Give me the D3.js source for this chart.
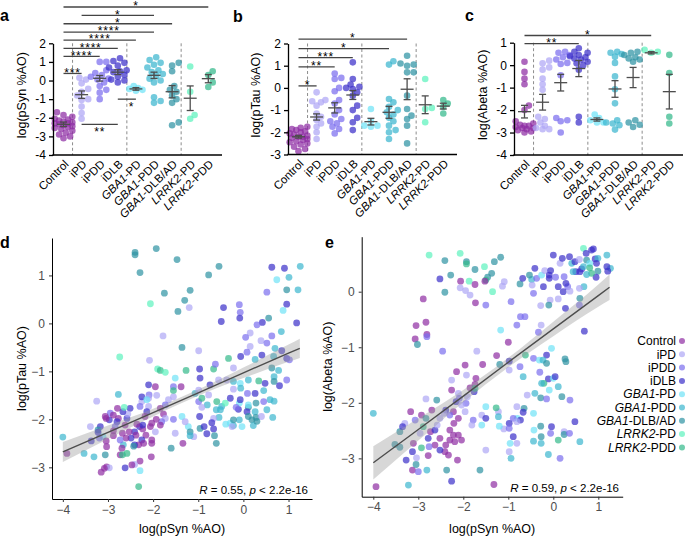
<!DOCTYPE html>
<html>
<head>
<meta charset="utf-8">
<script src="https://cdn.jsdelivr.net/npm/d3@7/dist/d3.min.js"></script>
<style>
html,body{margin:0;padding:0;background:#fff;}
svg{display:block;font-family:"Liberation Sans",Arial,Helvetica,sans-serif;}
</style>
</head>
<body>
<svg id="fig" width="685" height="536"></svg>
<script>
// ================= DATA =================
const groups = ["Control","iPD","iPDD","iDLB","GBA1-PD","GBA1-PDD","GBA1-DLB/AD","LRRK2-PD","LRRK2-PDD"];
const groupColors = ["#8e2ca3","#aea6f5","#7b6eee","#3b2fc9","#6fe3f7","#3cb6cf","#2e93a3","#5cf2bd","#33b98a"];

// panel a: log(pSyn %AO)
const pSynValues = [
  [-1.7,-1.85,-1.95,-2.05,-2.1,-2.15,-2.2,-2.25,-2.3,-2.3,-2.35,-2.4,-2.45,-2.5,-2.55,-2.6,-2.7,-2.8,-2.9,-3.0,-3.1],
  [0.15,0.05,-0.15,-0.45,-0.6,-0.8,-1.0,-1.05,-1.4,-1.75,-2.05],
  [1.0,1.0,0.55,0.4,0.3,0.2,0.1,0.05,-0.1,-0.3,-0.5,-0.65,-1.0],
  [1.2,1.05,0.95,0.8,0.7,0.55,0.5,0.45,0.3,0.2,0.05,0.0,-0.1],
  [-0.3,-0.4,-0.45,-0.5,-0.55],
  [1.25,1.1,0.95,0.85,0.7,0.55,0.45,0.35,0.25,0.1,0.0,-0.1,-0.9,-1.1,-1.2],
  [0.95,0.8,0.5,-0.3,-0.5,-0.6,-0.8,-1.0,-1.2,-2.25,-2.4],
  [0.75,-0.6,-1.85,-2.05],
  [0.5,0.3,-0.1,-0.35]
];
const pSynMean = [-2.35,-0.76,0.12,0.45,-0.45,0.28,-0.6,-0.95,0.1];
const pSynSem  = [0.12,0.2,0.15,0.13,0.07,0.17,0.33,0.66,0.22];
const pSynTicks = [-4,-3,-2,-1,0,1,2];
const pSynSig = [
  ["Control","iPD","***",0.38,"above",0.5],
  ["Control","iPDD","****",1.3,"above",0.5],
  ["Control","iDLB","****",1.73,"above",0.5],
  ["Control","GBA1-PD","****",2.17,"above",0.5],
  ["Control","GBA1-PDD","****",2.6,"above",0.5],
  ["Control","GBA1-DLB/AD","*",3.05,"above",0.5],
  ["iPD","GBA1-PDD","*",3.5,"above",0.5],
  ["Control","LRRK2-PDD","*",3.95,"above",0.5],
  ["iPD","iDLB","**",-2.35,"below",0.5],
  ["iDLB","GBA1-PD","*",-1.0,"below",0.75]
];

// panel b: log(pTau %AO)
const pTauValues = [
  [-1.75,-1.8,-1.85,-1.9,-1.95,-2.0,-2.05,-2.1,-2.15,-2.2,-2.2,-2.25,-2.3,-2.35,-2.4,-2.45,-2.5,-2.55,-2.65,-2.75,-2.85],
  [-0.2,-0.55,-0.6,-0.65,-0.8,-1.15,-1.3,-1.45,-1.6,-1.75,-2.0,-2.3],
  [0.65,0.45,0.4,0.0,-0.15,-0.55,-0.7,-1.0,-1.2,-1.4,-1.5,-1.6,-1.75,-1.85,-2.05],
  [1.15,0.4,0.15,0.05,0.0,-0.05,-0.2,-0.35,-0.8,-1.0,-1.35,-1.55,-1.9],
  [-0.95,-1.5,-1.7,-1.7,-1.75],
  [1.2,1.05,-0.5,-0.65,-0.85,-1.0,-1.1,-1.2,-1.35,-1.5,-1.7,-1.9,-2.0,-2.3],
  [1.45,1.1,1.05,1.0,0.7,0.7,-0.35,-0.95,-1.25,-1.4,-1.7,-2.5],
  [0.4,-0.9,-0.95,-1.55],
  [-0.55,-0.7,-0.85,-1.15]
];
const pTauMean = [-2.2,-1.31,-0.9,-0.32,-1.52,-1.1,-0.06,-0.76,-0.82];
const pTauSem  = [0.06,0.14,0.23,0.2,0.15,0.27,0.47,0.4,0.13];
const pTauTicks = [-3,-2,-1,0,1,2];
const pTauSig = [
  ["Control","iPD","*",0.09,"above",0.5],
  ["Control","iPDD","**",0.95,"above",0.5],
  ["Control","iDLB","***",1.36,"above",0.5],
  ["Control","GBA1-PDD","*",1.77,"above",0.5],
  ["Control","GBA1-DLB/AD","*",2.2,"above",0.5]
];

// panel c: log(Abeta %AO)
const abetaValues = [
  [0.15,-0.3,-0.6,-0.85,-1.8,-2.0,-2.5,-2.6,-2.65,-2.7,-2.7,-2.75,-2.8,-2.8,-2.85,-2.9,-2.95,-3.0],
  [0.2,0.08,-0.1,-0.2,-0.6,-0.85,-1.1,-2.3,-2.4,-2.55,-2.7,-2.8,-2.85,-2.85],
  [0.6,0.55,0.45,0.35,0.25,0.1,0.05,-0.45,-2.35,-2.45,-2.5,-3.0],
  [0.75,0.6,0.55,0.45,0.4,0.35,0.3,0.25,0.15,0.08,0.0,-0.2,-2.3,-2.55],
  [-2.2,-2.35,-2.45,-2.55,-2.55],
  [0.6,0.55,0.5,0.38,0.1,-0.5,-1.07,-1.7,-2.45,-2.55,-2.6,-2.67,-2.87],
  [0.6,0.55,0.45,0.35,0.3,0.25,0.15,-2.45,-2.55,-2.65,-2.75],
  [0.68,0.6,0.55],
  [0.46,-0.35,-2.3,-2.6]
];
const abetaMean = [-2.07,-1.65,-0.78,-0.15,-2.42,-1.06,-0.55,0.55,-1.18];
const abetaSem  = [0.28,0.35,0.37,0.36,0.07,0.37,0.45,0.05,0.77];
const abetaTicks = [-4,-3,-2,-1,0,1];
const abetaSig = [
  ["Control","iDLB","**",0.96,"above",0.5],
  ["Control","LRRK2-PD","*",1.32,"above",0.5]
];

// panel d: [log pSyn, log pTau, group index]
const scatterTau = [
[-2.40,1.48,6],[-2.40,1.43,6],[-1.93,1.56,6],[-1.47,1.33,6],[-2.29,1.06,6],[-0.54,1.19,6],[-0.77,1.01,6],[-1.75,0.63,6],[-1.18,0.69,6],[-1.30,0.48,6],[-1.45,0.25,6],[-2.06,0.41,7],[-1.20,0.33,1],[-0.44,0.33,3],[-0.49,0.04,3],[-0.09,0.39,2],[-0.07,0.23,2],[-0.08,0.11,3],[0.63,1.17,3],[0.91,1.15,3],[0.74,0.91,4],[1.01,0.96,5],[1.26,1.19,5],[0.96,0.70,6],[1.21,0.70,5],[0.52,0.65,2],[0.96,0.40,3],[0.88,0.27,4],[0.56,0.11,6],[1.18,0.01,3],[0.42,0.02,3],[0.30,-0.03,2],[0.84,-0.17,5],[0.15,-0.20,1],[0.05,-0.29,2],[0.39,-0.36,1],[0.63,-0.26,2],[-1.78,-0.26,1],[-1.36,-0.50,6],[-0.99,-0.57,1],[0.15,-0.48,1],[0.52,-0.41,2],[0.70,-0.52,5],[-2.74,-0.70,7],[-2.08,-0.77,1],[-1.90,-0.95,7],[-1.84,-0.98,8],[-1.73,-1.02,7],[-1.27,-0.98,8],[-0.97,-0.95,3],[-0.66,-0.95,8],[-0.62,-0.85,2],[-0.33,-0.73,8],[-0.22,-0.93,1],[-0.06,-0.69,3],[0.08,-0.60,2],[0.26,-0.75,5],[0.41,-0.66,3],[0.67,-0.69,5],[0.85,-0.57,3],[0.96,-0.73,3],[1.02,-0.76,2],[0.63,-0.93,6],[0.78,-0.98,5],[0.68,-1.11,5],[0.96,-1.18,2],[0.68,-1.21,6],[0.80,-1.30,3],[0.48,-1.25,3],[0.34,-1.20,8],[0.11,-1.18,5],[-0.07,-1.25,4],[-0.22,-1.21,5],[-0.22,-1.37,1],[-0.06,-1.35,5],[0.09,-1.46,2],[0.26,-1.46,3],[0.45,-1.40,5],[0.59,-1.59,5],[0.68,-1.62,5],[0.45,-1.63,2],[0.28,-1.66,6],[0.11,-1.75,6],[-0.11,-1.79,3],[0.08,-1.84,3],[0.26,-1.84,5],[0.11,-1.94,6],[0.28,-1.96,6],[0.19,-2.01,6],[-0.09,-2.01,5],[-0.22,-2.13,5],[-0.29,-2.08,4],[-0.39,-2.10,4],[-0.25,-2.15,1],[-0.54,-1.96,5],[-0.66,-1.98,1],[-0.60,-1.80,5],[-0.48,-1.73,5],[-0.59,-1.63,8],[-0.80,-1.70,5],[-0.92,-1.75,1],[-0.99,-1.63,2],[-1.07,-1.46,5],[-0.92,-1.56,8],[-0.99,-1.39,1],[-0.77,-1.49,1],[-0.74,-1.28,3],[-0.37,-1.18,1],[-0.55,-1.18,1],[-0.96,-1.14,3],[-0.97,-1.94,3],[-0.96,-2.19,6],[-0.87,-2.15,3],[-0.70,-2.07,3],[-0.66,-2.20,3],[-0.64,-2.34,6],[-0.81,-2.30,3],[-0.60,-2.50,6],[-1.10,-2.36,1],[-1.22,-2.15,4],[-1.18,-2.26,6],[-1.18,-2.34,5],[-1.36,-1.94,4],[-1.29,-2.05,1],[-1.55,-2.00,2],[-1.34,-2.50,0],[-1.60,-2.60,6],[-1.51,-2.29,1],[-1.55,-1.32,2],[-1.38,-1.32,0],[-1.55,-1.40,8],[-1.55,-1.53,1],[-1.51,-1.14,4],[-1.66,-1.59,1],[-1.73,-1.70,2],[-1.84,-1.77,0],[-1.77,-1.89,0],[-1.73,-1.98,1],[-1.81,-2.05,2],[-1.93,-2.00,0],[-1.84,-2.12,0],[-1.95,-1.32,0],[-2.09,-1.49,2],[-1.92,-1.50,1],[-2.10,-1.56,1],[-2.10,-1.73,1],[-2.14,-1.84,3],[-2.25,-1.63,1],[-2.29,-1.73,2],[-2.25,-1.53,3],[-2.10,-1.28,3],[-2.18,-1.94,0],[-2.03,-2.08,0],[-1.95,-2.26,1],[-2.06,-2.15,0],[-2.16,-2.33,0],[-2.30,-2.15,3],[-2.23,-2.20,0],[-2.23,-2.12,3],[-2.36,-2.10,0],[-2.41,-2.26,3],[-2.38,-2.33,0],[-2.25,-2.43,3],[-2.32,-2.53,0],[-2.41,-2.53,3],[-2.21,-2.50,0],[-2.03,-2.43,0],[-2.03,-2.50,0],[-2.04,-2.78,0],[-2.29,-2.87,0],[-2.41,-2.94,1],[-2.47,-2.95,0],[-2.29,-3.07,4],[-2.62,-3.01,3],[-2.32,-3.40,8],[-2.43,-2.56,6],[-2.49,-2.39,3],[-2.53,-2.26,0],[-2.58,-1.98,3],[-2.62,-2.12,0],[-2.68,-2.29,0],[-2.60,-2.39,0],[-2.66,-2.53,5],[-2.73,-2.43,2],[-2.69,-2.60,0],[-2.58,-2.71,8],[-2.73,-2.74,0],[-2.51,-1.77,3],[-2.56,-1.89,1],[-2.67,-1.84,3],[-2.64,-1.75,7],[-2.79,-1.77,0],[-2.77,-1.98,0],[-2.80,-2.05,3],[-2.84,-2.15,2],[-2.88,-2.24,0],[-2.88,-2.34,0],[-2.97,-2.01,3],[-3.04,-1.98,0],[-2.95,-1.87,2],[-3.06,-1.94,0],[-2.88,-1.91,0],[-3.17,-2.15,3],[-3.22,-2.22,6],[-3.11,-2.36,4],[-3.19,-2.39,2],[-3.04,-2.45,0],[-3.03,-2.57,0],[-3.06,-2.74,6],[-3.03,-2.99,0],[-2.97,-3.01,1],[-3.15,-3.10,0],[-3.08,-3.02,0],[-3.22,-2.27,3],[-3.25,-1.62,1],[-3.39,-2.15,1],[-3.31,-2.78,5],[-3.37,-2.45,3],[-3.53,-2.71,5],[-4.00,-2.37,5],[-3.91,-2.71,0],[-2.77,-1.48,5],[-2.14,-1.59,4],[-2.68,-2.74,8],[0.22,-2.13,5],[-0.22,-2.01,6],[-0.51,-1.80,5],[-0.40,-1.66,7],[-0.09,-1.66,4],[0.11,-1.70,4],[0.40,-1.94,1],[0.52,-1.80,5],[0.65,-1.96,5],[-0.16,-1.75,2],[-0.07,-1.59,3],[-0.29,-1.56,3],[0.30,-2.04,6],[-0.03,-2.15,4]
];

// panel e: [log pSyn, log Abeta, group index]
const scatterAbeta = [
[-2.76,0.66,7],[-2.41,0.56,6],[-2.07,0.69,7],[-1.93,0.54,6],[-1.93,0.50,8],[-1.74,0.40,6],[-1.53,0.45,7],[-1.31,0.54,6],[-1.17,0.62,6],[-1.37,0.33,6],[-1.46,0.26,6],[-1.50,0.21,8],[-2.28,0.30,6],[-2.52,0.23,3],[-2.06,0.19,0],[-1.87,0.19,7],[-1.52,0.19,0],[-1.74,0.13,0],[-2.07,0.07,1],[-1.95,0.02,1],[-1.85,-0.06,1],[-2.41,-0.01,6],[-1.35,0.00,7],[-1.73,-0.20,0],[-1.50,-0.24,2],[-2.89,-0.13,0],[-1.13,0.10,1],[-1.09,0.18,1],[-0.94,-0.18,2],[-0.74,0.14,6],[-0.68,0.24,3],[-0.48,0.22,5],[-0.53,0.30,6],[-0.41,0.42,3],[-0.47,0.12,1],[-0.44,-0.03,2],[-0.37,0.24,2],[-0.26,0.30,4],[-0.22,0.09,3],[-0.19,0.38,1],[-0.09,0.24,3],[-0.09,0.30,3],[-0.06,0.38,3],[0.00,0.66,3],[0.05,0.26,2],[0.11,0.09,3],[0.15,0.51,1],[0.20,0.60,3],[0.24,0.27,2],[0.32,0.09,2],[0.22,0.00,3],[0.37,0.01,1],[0.28,0.15,3],[0.36,0.63,3],[0.41,0.51,5],[0.48,0.54,3],[0.50,0.36,3],[0.44,0.36,5],[0.58,0.58,1],[0.59,0.36,3],[0.63,0.41,3],[0.67,0.45,5],[0.67,0.78,7],[0.74,0.57,6],[0.73,0.69,3],[0.81,0.51,4],[0.81,0.43,8],[0.85,0.75,3],[0.89,0.77,3],[0.93,0.59,3],[0.99,0.60,5],[0.96,0.51,3],[0.99,0.37,6],[0.95,0.26,3],[0.85,0.33,8],[0.74,0.31,5],[1.19,0.66,5],[1.27,0.42,5],[1.19,0.45,3],[1.21,0.37,3],[0.68,0.09,5],[0.58,0.06,1],[0.59,-0.12,6],[0.58,-0.24,2],[0.69,-0.71,3],[0.27,-0.30,3],[0.11,-0.13,1],[-0.07,-0.15,1],[-0.10,-0.24,6],[-0.28,-0.25,1],[-0.63,-0.45,2],[-0.73,-0.45,2],[-0.27,-0.60,1],[-0.33,-0.73,2],[-0.81,-0.60,2],[-1.00,-0.91,0],[-1.17,-0.69,4],[-2.83,-0.55,0],[-3.05,-0.61,0],[-3.07,-0.85,0],[-3.02,-0.95,6],[-2.81,-0.77,0],[-2.81,-0.81,2],[-2.46,-1.07,2],[-1.70,-1.07,1],[-1.26,-1.15,0],[-1.57,-1.31,0],[-0.98,-1.25,3],[-0.98,-1.41,1],[-1.19,-1.31,6],[-0.62,-1.14,8],[-0.44,-1.20,2],[-0.31,-1.23,4],[-0.04,-1.02,4],[-0.15,-1.14,3],[-0.23,-1.23,5],[-0.15,-1.29,6],[-0.74,-1.35,2],[-0.67,-1.53,5],[-0.30,-1.45,2],[-0.11,-1.57,3],[0.00,-1.56,4],[0.04,-1.53,3],[-0.21,-1.65,8],[-0.26,-1.65,5],[-0.09,-1.77,4],[0.11,-1.71,5],[0.19,-1.89,6],[0.37,-1.95,2],[0.26,-1.21,6],[0.28,-1.26,6],[-0.41,-1.83,5],[-0.58,-1.86,1],[-0.28,-1.91,6],[-0.15,-1.93,2],[-0.65,-2.10,6],[-0.67,-2.17,3],[-0.44,-2.19,4],[-0.81,-2.07,1],[-0.80,-2.28,4],[-0.89,-2.28,2],[-0.73,-2.31,3],[-0.81,-2.34,1],[-0.98,-2.37,3],[-1.10,-2.47,1],[-0.98,-2.46,2],[-0.89,-2.61,3],[-0.81,-2.73,1],[-0.96,-2.73,4],[-0.98,-2.88,1],[-0.94,-3.00,5],[-0.44,-2.69,5],[-0.43,-2.49,4],[-0.27,-2.61,6],[-0.27,-2.73,5],[-0.28,-2.42,6],[-0.06,-2.55,2],[-0.04,-2.43,3],[-0.11,-2.93,5],[0.11,-2.67,8],[0.24,-2.52,1],[0.24,-2.57,6],[0.36,-2.55,2],[0.15,-3.00,2],[0.48,-2.34,3],[0.59,-2.70,5],[-1.22,-2.16,1],[-1.22,-2.25,5],[-1.20,-2.42,4],[-1.59,-2.22,1],[-1.59,-2.40,4],[-1.50,-2.28,3],[-1.50,-2.07,4],[-1.50,-2.85,1],[-1.32,-3.47,0],[-1.27,-2.09,8],[-1.78,-2.31,2],[-1.81,-2.40,1],[-1.96,-2.16,1],[-1.94,-2.01,2],[-1.91,-1.89,1],[-1.85,-1.73,0],[-1.74,-1.67,0],[-1.76,-1.80,3],[-1.93,-1.50,1],[-2.15,-1.44,0],[-1.96,-1.32,0],[-1.72,-1.56,0],[-2.26,-1.77,0],[-2.11,-1.83,1],[-2.26,-1.59,1],[-2.16,-1.98,3],[-2.09,-1.92,2],[-2.04,-2.04,1],[-2.22,-2.16,0],[-2.11,-2.28,0],[-2.21,-2.37,0],[-2.30,-2.49,0],[-2.22,-2.58,0],[-2.11,-2.58,0],[-2.04,-2.67,0],[-2.19,-2.70,0],[-2.30,-2.67,0],[-2.39,-2.76,0],[-2.41,-2.88,0],[-2.33,-2.94,0],[-2.13,-3.03,0],[-2.52,-2.85,3],[-2.52,-2.64,0],[-2.63,-2.76,0],[-2.73,-2.52,0],[-2.63,-2.49,3],[-2.58,-2.40,1],[-2.52,-2.28,1],[-2.39,-2.13,3],[-2.43,-2.19,1],[-2.30,-2.22,2],[-2.59,-1.95,6],[-2.83,-1.93,1],[-2.70,-2.13,0],[-2.93,-2.22,0],[-2.83,-2.28,6],[-3.07,-2.31,2],[-3.17,-2.16,0],[-2.89,-2.43,8],[-2.96,-2.55,1],[-2.78,-2.64,3],[-2.76,-2.79,2],[-2.93,-2.81,8],[-3.13,-2.88,3],[-3.11,-2.73,0],[-2.78,-2.95,0],[-3.27,-3.03,3],[-3.41,-2.52,6],[-3.30,-2.37,1],[-3.35,-2.43,3],[-3.52,-2.75,6],[-3.41,-2.80,6],[-3.13,-3.21,0],[-3.05,-3.11,6],[-3.00,-3.24,2],[-3.04,-2.99,1],[-2.81,-3.21,5],[-3.22,-3.48,5],[-3.94,-3.51,0],[-4.00,-2.19,5],[-2.37,-3.21,6],[-2.26,-3.41,3],[-1.63,-3.21,6],[-1.74,-1.74,8]
];

// linear fits with 95% confidence band
const fitX = [-4,-3,-2,-1,0,1,1.25];
const fitTauLine = [-2.68,-2.27,-1.86,-1.45,-1.03,-0.62,-0.52];
const fitTauLo   = [-2.89,-2.41,-1.94,-1.51,-1.14,-0.80,-0.72];
const fitTauHi   = [-2.47,-2.13,-1.78,-1.38,-0.92,-0.44,-0.32];
const fitAbetaLine = [-3.08,-2.48,-1.88,-1.27,-0.67,-0.07,0.08];
const fitAbetaLo   = [-3.38,-2.68,-1.99,-1.36,-0.80,-0.27,-0.15];
const fitAbetaHi   = [-2.78,-2.28,-1.77,-1.19,-0.54,0.13,0.31];
const statTau = ["0.55","2.2e-16"];
const statAbeta = ["0.59","2.2e-16"];
const xTicksScatter = [-4,-3,-2,-1,0,1];
const yTicksTau = [-3,-2,-1,0,1];
const yTicksAbeta = [-3,-2,-1,0];

// ================= DRAWING =================
const svg = d3.select("#fig");
const FONT = '"Liberation Sans", Arial, Helvetica, sans-serif';
const intFmt = d3.format("d");

function addGroupName(t, name) {
  const m = /^(GBA1|LRRK2)(-.+)$/.exec(name);
  if (m) {
    t.append("tspan").attr("font-style", "italic").text(m[1]);
    t.append("tspan").text(m[2]);
  } else t.text(name);
}

function panelLetter(txt, x, y) {
  svg.append("text").attr("x", x).attr("y", y).attr("font-size", 16)
    .attr("font-weight", "bold").attr("fill", "#000").text(txt);
}

function stripPanel(o) {
  const g = svg.append("g");
  const y = d3.scaleLinear().domain(o.yDomain).range([o.bottom, o.top]);
  const x = d3.scalePoint().domain(groups).range([o.x0 + 10.5, o.x0 + 10.5 + 8 * 18.1]);
  const xEnd = o.x0 + 169;

  [0, 3, 6].forEach(i => {
    const xs = (x(groups[i]) + x(groups[i + 1])) / 2;
    g.append("line").attr("x1", xs).attr("x2", xs).attr("y1", o.top).attr("y2", o.bottom)
      .attr("stroke", "#8c8c8c").attr("stroke-width", 1).attr("stroke-dasharray", "3,2.5");
  });

  // points (simple deterministic beeswarm)
  o.values.forEach((vals, gi) => {
    const cx = x(groups[gi]);
    const placed = [];
    vals.slice().sort((a, b) => a - b).forEach(v => {
      const py = y(v);
      let best = 0, bestD = -1;
      for (let k = 0; k <= 8; k++) {
        const off = k === 0 ? 0 : (k % 2 ? 1 : -1) * Math.ceil(k / 2) * 2.2;
        let minD = Infinity;
        placed.forEach(p => { const d = Math.hypot(p[0] - off, p[1] - py); if (d < minD) minD = d; });
        if (minD >= 5.4) { best = off; bestD = minD; break; }
        if (minD > bestD) { bestD = minD; best = off; }
      }
      placed.push([best, py]);
    });
    g.append("g").selectAll("circle").data(placed).join("circle")
      .attr("cx", p => cx + p[0]).attr("cy", p => p[1]).attr("r", 3.3)
      .attr("fill", groupColors[gi]).attr("fill-opacity", 0.72);
  });

  // mean ± SEM
  groups.forEach((name, gi) => {
    const cx = x(name), m = o.means[gi], s = o.sems[gi];
    const seg = (x1, y1, x2, y2) => g.append("line").attr("x1", x1).attr("y1", y1)
      .attr("x2", x2).attr("y2", y2).attr("stroke", "#4d4d4d").attr("stroke-width", 1.3);
    seg(cx - 6.5, y(m), cx + 6.5, y(m));
    seg(cx, y(m - s), cx, y(m + s));
    seg(cx - 3.5, y(m - s), cx + 3.5, y(m - s));
    seg(cx - 3.5, y(m + s), cx + 3.5, y(m + s));
  });

  // axes
  const ax = g.append("g").attr("transform", `translate(${o.x0},0)`)
    .call(d3.axisLeft(y).tickValues(o.yTicks).tickSize(4).tickSizeOuter(0).tickPadding(3).tickFormat(d => String(d)));
  ax.select(".domain").attr("stroke", "#000").attr("stroke-width", 1.3);
  ax.selectAll(".tick line").attr("stroke", "#000").attr("stroke-width", 1.3);
  ax.selectAll(".tick text").attr("font-size", 12).attr("font-family", FONT).attr("fill", "#000");
  g.append("line").attr("x1", o.x0 - 0.65).attr("x2", xEnd).attr("y1", o.bottom).attr("y2", o.bottom)
    .attr("stroke", "#000").attr("stroke-width", 1.3);

  groups.forEach(name => {
    const t = g.append("text")
      .attr("transform", `translate(${x(name) + 3},${o.bottom + 7}) rotate(-45)`)
      .attr("text-anchor", "end").attr("dy", "0.35em").attr("font-size", 11.5).attr("fill", "#000");
    addGroupName(t, name);
  });

  g.append("text").attr("transform", `translate(${o.titleX},${(o.top + o.bottom) / 2 - 4}) rotate(-90)`)
    .attr("text-anchor", "middle").attr("font-size", 12.5).attr("fill", "#000").text(o.title);

  // significance brackets
  o.sig.forEach(([a, b, lab, v, pos, frac]) => {
    const x1 = x(a), x2 = x(b), yy = y(v);
    g.append("line").attr("x1", x1).attr("x2", x2).attr("y1", yy).attr("y2", yy)
      .attr("stroke", "#444").attr("stroke-width", 1.3);
    g.append("text").attr("x", x1 + (x2 - x1) * frac)
      .attr("y", pos === "below" ? yy + 11.5 : yy + 3.2)
      .attr("text-anchor", "middle").attr("font-size", 12).attr("letter-spacing", 0.8)
      .attr("fill", "#000").text(lab);
  });
}

function scatterPanel(o) {
  const g = svg.append("g");
  const x = d3.scaleLinear().domain(o.xDomain).range([o.left, o.right]);
  const y = d3.scaleLinear().domain(o.yDomain).range([o.bottom, o.top]);

  g.append("g").selectAll("circle").data(o.points).join("circle")
    .attr("cx", d => x(d[0])).attr("cy", d => y(d[1])).attr("r", 3.4)
    .attr("fill", d => groupColors[d[2]]).attr("fill-opacity", 0.7);

  const band = fitX.map((fx, i) => [fx, o.lo[i], o.hi[i]]);
  g.append("path").datum(band)
    .attr("d", d3.area().x(d => x(d[0])).y0(d => y(d[1])).y1(d => y(d[2])).curve(d3.curveMonotoneX))
    .attr("fill", "#9a9a9a").attr("fill-opacity", 0.4);
  g.append("path").datum(fitX.map((fx, i) => [fx, o.line[i]]))
    .attr("d", d3.line().x(d => x(d[0])).y(d => y(d[1])))
    .attr("fill", "none").attr("stroke", "#4d4d4d").attr("stroke-width", 1.4);

  const xa = g.append("g").attr("transform", `translate(0,${o.bottom})`)
    .call(d3.axisBottom(x).tickValues(xTicksScatter).tickFormat(intFmt).tickSize(3).tickSizeOuter(0).tickPadding(3));
  const ya = g.append("g").attr("transform", `translate(${o.left},0)`)
    .call(d3.axisLeft(y).tickValues(o.yTicks).tickFormat(intFmt).tickSize(3).tickSizeOuter(0).tickPadding(4));
  [xa, ya].forEach(a => {
    a.select(".domain").attr("stroke", "#000").attr("stroke-width", 1);
    a.selectAll(".tick line").attr("stroke", "#333");
    a.selectAll(".tick text").attr("font-size", 12).attr("font-family", FONT).attr("fill", "#4d4d4d");
  });

  g.append("text").attr("x", (o.left + o.right) / 2).attr("y", 533).attr("text-anchor", "middle")
    .attr("font-size", 12.5).attr("fill", "#000").text("log(pSyn %AO)");
  g.append("text").attr("transform", `translate(${o.titleX},${(o.top + o.bottom) / 2}) rotate(-90)`)
    .attr("text-anchor", "middle").attr("font-size", 12.5).attr("fill", "#000").text(o.title);

  const st = g.append("text").attr("x", o.statX).attr("y", o.statY).attr("text-anchor", "end")
    .attr("font-size", 11.5).attr("fill", "#000");
  st.append("tspan").attr("font-style", "italic").text("R");
  st.append("tspan").text(` = ${o.stat[0]}, `);
  st.append("tspan").attr("font-style", "italic").text("p");
  st.append("tspan").text(` < ${o.stat[1]}`);
}

// top row
stripPanel({ x0: 53, top: 43.3, bottom: 155, yDomain: [-4, 2], yTicks: pSynTicks,
  values: pSynValues, means: pSynMean, sems: pSynSem, sig: pSynSig,
  title: "log(pSyn %AO)", titleX: 26 });
stripPanel({ x0: 288, top: 43.5, bottom: 154.5, yDomain: [-3, 2], yTicks: pTauTicks,
  values: pTauValues, means: pTauMean, sems: pTauSem, sig: pTauSig,
  title: "log(pTau %AO)", titleX: 260 });
stripPanel({ x0: 514, top: 42.7, bottom: 155, yDomain: [-4, 1], yTicks: abetaTicks,
  values: abetaValues, means: abetaMean, sems: abetaSem, sig: abetaSig,
  title: "log(Abeta %AO)", titleX: 487 });

// bottom row
scatterPanel({ left: 52, right: 312, top: 238, bottom: 499, xDomain: [-4.24, 1.52], yDomain: [-3.66, 1.78],
  yTicks: yTicksTau, points: scatterTau, line: fitTauLine, lo: fitTauLo, hi: fitTauHi,
  title: "log(pTau %AO)", titleX: 26, stat: statTau, statX: 308, statY: 494 });
scatterPanel({ left: 361.7, right: 622.7, top: 236.7, bottom: 496.7, xDomain: [-4.258, 1.542], yDomain: [-3.69, 0.99],
  yTicks: yTicksAbeta, points: scatterAbeta, line: fitAbetaLine, lo: fitAbetaLo, hi: fitAbetaHi,
  title: "log(Abeta %AO)", titleX: 332, stat: statAbeta, statX: 619, statY: 492 });

// legend
groups.forEach((name, i) => {
  const yy = 341 + i * 13.3;
  const t = svg.append("text").attr("x", 676).attr("y", yy).attr("dy", "0.35em")
    .attr("text-anchor", "end").attr("font-size", 12).attr("fill", "#000");
  addGroupName(t, name);
  svg.append("circle").attr("cx", 682).attr("cy", yy).attr("r", 3)
    .attr("fill", groupColors[i]).attr("fill-opacity", 0.7);
});

panelLetter("a", 0, 21);
panelLetter("b", 233, 21.5);
panelLetter("c", 465, 21);
panelLetter("d", 0, 248);
panelLetter("e", 325, 248);
</script>
</body>
</html>
